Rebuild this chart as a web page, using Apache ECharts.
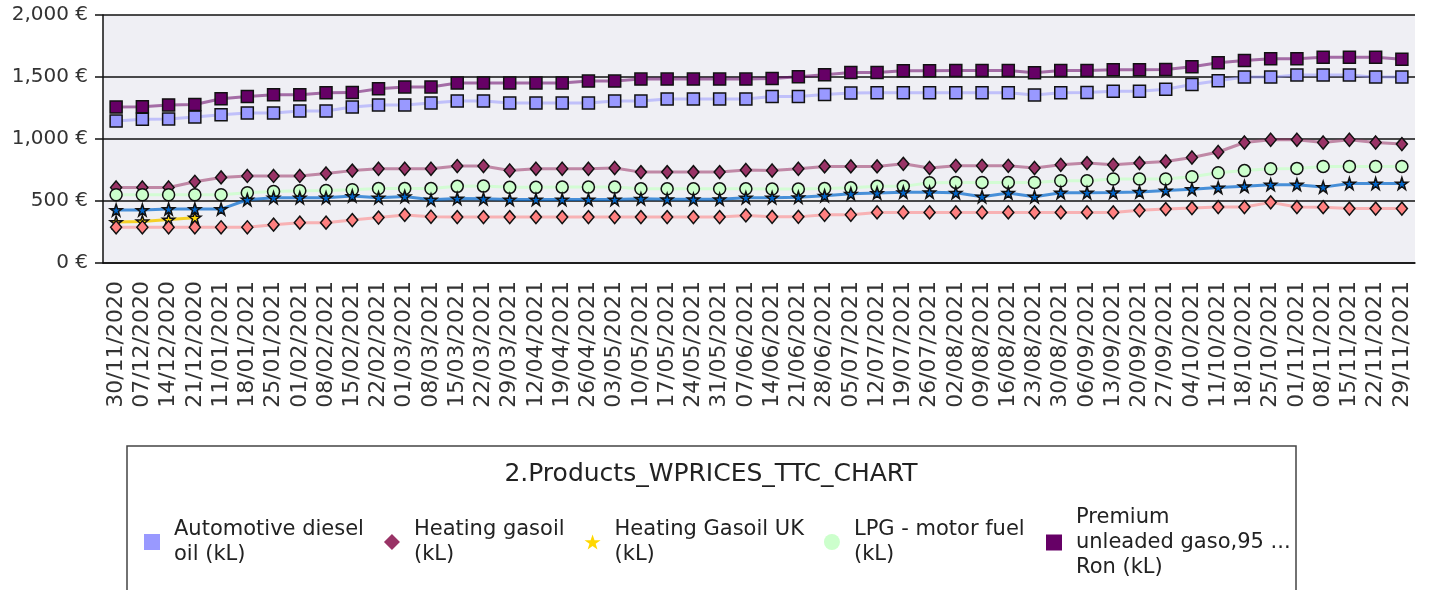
<!DOCTYPE html>
<html>
<head>
<meta charset="utf-8">
<title>2.Products_WPRICES_TTC_CHART</title>
<style>
    body, html {width: 100%; height: 100%; margin: 0; background: #fff;}
    #chart {width: 1430px; height: 590px;}
</style>
<script src="https://cdn.jsdelivr.net/npm/echarts@6/dist/echarts.min.js"></script>
</head>
<body>
<div id="chart"></div>
<script>
// weekly dates (28/12, 04/01 and 05/04 are missing in the source)
var dates = ['30/11/2020','07/12/2020','14/12/2020','21/12/2020','11/01/2021','18/01/2021','25/01/2021',
    '01/02/2021','08/02/2021','15/02/2021','22/02/2021','01/03/2021','08/03/2021','15/03/2021','22/03/2021',
    '29/03/2021','12/04/2021','19/04/2021','26/04/2021','03/05/2021','10/05/2021','17/05/2021','24/05/2021',
    '31/05/2021','07/06/2021','14/06/2021','21/06/2021','28/06/2021','05/07/2021','12/07/2021','19/07/2021',
    '26/07/2021','02/08/2021','09/08/2021','16/08/2021','23/08/2021','30/08/2021','06/09/2021','13/09/2021',
    '20/09/2021','27/09/2021','04/10/2021','11/10/2021','18/10/2021','25/10/2021','01/11/2021','08/11/2021',
    '15/11/2021','22/11/2021','29/11/2021'];

var yTicks = [0, 500, 1000, 1500, 2000];

var diesel = [1145,1160,1162,1178,1195,1210,1210,1226,1226,1258,
    1274,1274,1291,1307,1307,1290,1290,1290,1290,1306,
    1306,1323,1323,1323,1323,1342,1342,1358,1370,1373,
    1373,1373,1373,1373,1373,1355,1373,1375,1386,1386,
    1402,1440,1470,1499,1499,1516,1516,1516,1499,1499];

var heatingGasoil = [609,609,609,655,690,702,702,702,722,745,
    760,760,760,782,782,746,760,760,760,766,
    733,733,733,733,750,746,760,779,779,779,
    800,766,784,784,784,766,792,806,792,806,
    819,851,895,972,994,994,972,994,972,959];

var heatingGasoilUK = [330,335,350,365];

var lpg = [551,551,551,551,551,566,576,583,585,591,
    600,600,600,618,620,610,610,612,612,612,
    598,598,598,598,598,596,596,600,606,618,
    618,648,650,650,650,650,663,663,677,677,
    677,695,728,745,760,763,779,779,779,779];

var premium95 = [1258,1260,1275,1278,1325,1342,1357,1357,1373,1374,
    1406,1420,1420,1451,1451,1451,1451,1451,1467,1467,
    1483,1483,1483,1483,1483,1487,1502,1519,1536,1536,
    1551,1551,1552,1552,1552,1534,1552,1552,1558,1558,
    1560,1583,1615,1633,1647,1647,1660,1660,1660,1644];

// two more series are plotted but their legend entries are cut off in the source
var series6 = [288,288,288,288,288,288,309,325,325,346,
    366,388,373,370,370,370,370,370,370,370,
    370,370,370,370,384,372,372,389,389,408,
    408,408,408,408,408,408,408,408,408,425,
    435,443,451,451,489,451,450,439,439,439];

var series7 = [427,427,435,435,435,510,527,527,527,540,
    527,537,510,520,518,512,512,512,512,512,
    518,514,514,514,527,527,530,542,558,564,
    570,570,566,535,565,535,567,567,569,573,
    584,595,608,618,632,632,612,641,641,641];

var names = ['Automotive diesel oil (kL)', 'Heating gasoil (kL)', 'Heating Gasoil UK (kL)',
    'LPG - motor fuel (kL)', 'Premium unleaded gaso,95 Ron (kL)', 'Series 6 (kL)', 'Series 7 (kL)'];

var legendText = {
    'Automotive diesel oil (kL)': 'Automotive diesel\noil (kL)',
    'Heating gasoil (kL)': 'Heating gasoil\n(kL)',
    'Heating Gasoil UK (kL)': 'Heating Gasoil UK\n(kL)',
    'LPG - motor fuel (kL)': 'LPG - motor fuel\n(kL)',
    'Premium unleaded gaso,95 Ron (kL)': 'Premium\nunleaded gaso,95 ...\nRon (kL)'
};

var STAR = 'path://M50,0L61.8,35.1L98.1,35.1L68.7,56.7L79.4,91.3L50,70L20.6,91.3L31.3,56.7L1.9,35.1L38.2,35.1Z';
var FONT = 'DejaVu Sans';

function line(name, data, symbol, size, fill, stroke, opacity) {
    return {
        name: name,
        type: 'line',
        data: data,
        symbol: symbol,
        symbolSize: size,
        showAllSymbol: true,
        connectNulls: false,
        itemStyle: {color: fill, borderColor: '#111', borderWidth: 1.5},
        lineStyle: {color: stroke, width: 3, opacity: opacity},
        emphasis: {disabled: true}
    };
}

var chart = echarts.init(document.getElementById('chart'));

var option = {
    backgroundColor: '#fff',
    animation: false,
    textStyle: {fontFamily: FONT},
    grid: {
        left: 103, right: 15, top: 15, bottom: 327,
        show: true, backgroundColor: '#efeff4', borderWidth: 0,
        outerBoundsMode: 'none'
    },
    xAxis: {
        type: 'category',
        data: dates,
        boundaryGap: true,
        axisLine: {lineStyle: {color: '#111', width: 1.5}},
        axisTick: {alignWithLabel: true, length: 7, lineStyle: {color: '#111', width: 1.5}},
        axisLabel: {interval: 0, rotate: 90, margin: 18, color: '#333', fontSize: 22, fontFamily: FONT},
        splitLine: {show: false}
    },
    yAxis: {
        type: 'value',
        min: yTicks[0],
        max: yTicks[yTicks.length - 1],
        interval: yTicks[1] - yTicks[0],
        axisLine: {show: true, lineStyle: {color: '#111', width: 1.5}},
        axisTick: {show: true, length: 8, lineStyle: {color: '#111', width: 1.5}},
        axisLabel: {
            margin: 15, color: '#333', fontSize: 20, fontFamily: FONT,
            formatter: function (v) { return v.toLocaleString('en-US') + ' €'; }
        },
        splitLine: {lineStyle: {color: '#111', width: 1.5}}
    },
    legend: [{
        data: [
            {name: names[0], icon: 'rect'},
            {name: names[1], icon: 'diamond'},
            {name: names[2], icon: STAR},
            {name: names[3], icon: 'circle'}
        ],
        left: 144, top: 517, padding: 0,
        itemWidth: 16, itemHeight: 16, itemGap: 20,
        selectedMode: false,
        itemStyle: {borderWidth: 0},
        textStyle: {fontSize: 21, lineHeight: 25, color: '#222', fontFamily: FONT, padding: [0, 0, 0, 9]},
        formatter: function (n) { return legendText[n]; }
    }, {
        data: [{name: names[4], icon: 'rect'}],
        left: 1046, top: 505, padding: 0,
        itemWidth: 16, itemHeight: 16,
        selectedMode: false,
        itemStyle: {borderWidth: 0},
        textStyle: {fontSize: 21, lineHeight: 25, color: '#222', fontFamily: FONT, padding: [0, 0, 0, 9]},
        formatter: function (n) { return legendText[n]; }
    }],
    graphic: [{
        type: 'rect',
        shape: {x: 127, y: 446, width: 1169, height: 170},
        style: {fill: '#fff', stroke: '#444', lineWidth: 1.5},
        z: -1
    }, {
        type: 'text',
        x: 711, y: 474,
        style: {
            text: '2.Products_WPRICES_TTC_CHART',
            font: '25px "DejaVu Sans"',
            fill: '#222',
            align: 'center', verticalAlign: 'middle',
            textAlign: 'center', textVerticalAlign: 'middle'
        }
    }],
    series: [
        line(names[0], diesel, 'rect', 12, '#9999ff', '#9999ff', 0.55),
        line(names[1], heatingGasoil, 'diamond', [11, 13], '#993366', '#993366', 0.55),
        line(names[2], heatingGasoilUK, STAR, 12, '#ffd700', '#f5cc10', 0.9),
        line(names[3], lpg, 'circle', 12, '#ccffcc', '#ccffcc', 0.8),
        line(names[4], premium95, 'rect', 12, '#660066', '#660066', 0.55),
        line(names[5], series6, 'diamond', [11, 13], '#ff8080', '#ff8080', 0.55),
        line(names[6], series7, STAR, 12, '#0066cc', '#0066cc', 0.7)
    ]
};

chart.setOption(option);
</script>
</body>
</html>
